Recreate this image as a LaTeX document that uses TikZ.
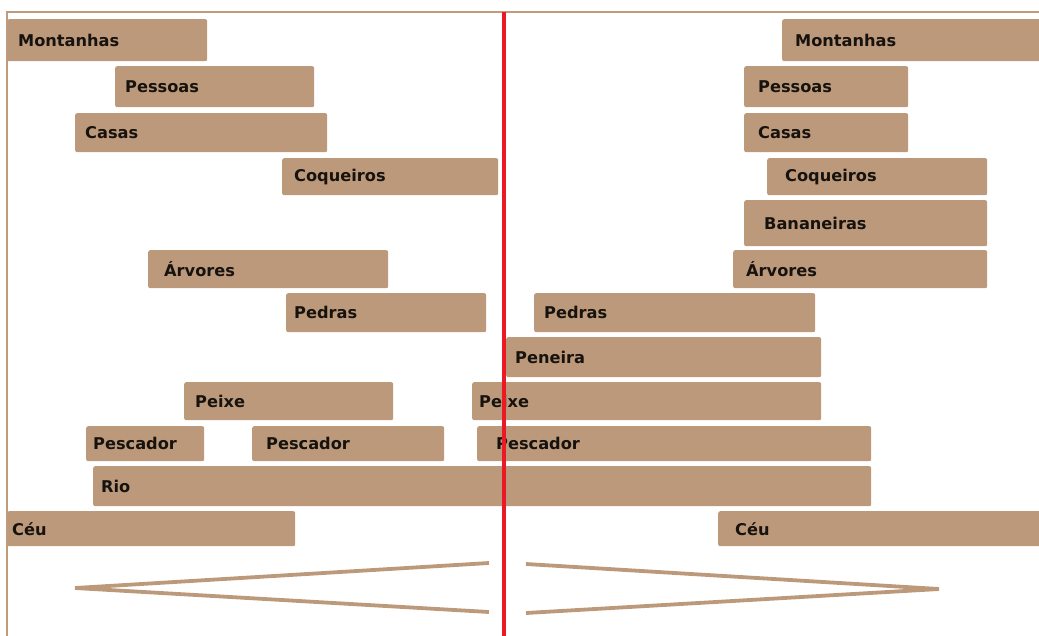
\documentclass[tikz,border=0pt]{standalone}
\usepackage{fontspec}
\setmainfont{DejaVu Sans}
\definecolor{boxbrown}{RGB}{189,153,123}
\definecolor{framebrown}{RGB}{192,156,124}
\definecolor{txt}{RGB}{22,18,14}
\definecolor{redline}{RGB}{235,25,35}
\tikzset{
  box/.style={fill=boxbrown, draw=none, rounded corners=2pt, anchor=north west,
    inner xsep=0pt, inner ysep=0pt, align=left, text=txt,
    font=\fontsize{16.2}{19}\selectfont\bfseries},
  frameline/.style={draw=framebrown, line width=2.6pt},
  chevron/.style={draw=boxbrown, line width=3.8pt, line join=miter},
  divider/.style={draw=redline, line width=3.4pt}
}
% \bx{name}{x1}{y1}{width}{height}{text offset}{text}
\newcommand\bx[7]{%
  \node[box, text width=#4pt, minimum height=#5pt] (#1) at (#2,#3) {\hspace*{#6pt}#7};}
\begin{document}
\begin{tikzpicture}[x=1pt,y=-1pt]
\useasboundingbox (0,0) rectangle (1039,635);
\clip (0,0) rectangle (1039,635);
% frame
\coordinate (ftl) at (7,12);
\coordinate (ftr) at (1045,12);
\coordinate (fbl) at (7,640);
\draw[frameline] (ftr) -- (ftl) -- (fbl);
% left column
\bx{lmont}{7}{19}{200}{42}{11}{Montanhas}
\bx{lpess}{115}{66}{199}{41}{10}{Pessoas}
\bx{lcasa}{75}{113}{252}{39}{10}{Casas}
\bx{lcoq}{282}{158}{216}{37}{12}{Coqueiros}
\bx{larv}{148}{250}{240}{38}{16}{Árvores}
\bx{lped}{286}{293}{200}{39}{8}{Pedras}
\bx{lpeix}{184}{382}{209}{38}{11}{Peixe}
\bx{lpesc}{86}{426}{118}{35}{7}{Pescador}
\bx{lpescb}{252}{426}{192}{35}{14}{Pescador}
\bx{rio}{93}{466}{778}{40}{8}{Rio}
\bx{lceu}{7}{511}{288}{35}{5}{Céu}
% middle
\bx{mpen}{506}{337}{315}{40}{9}{Peneira}
\bx{mpeix}{472}{382}{349}{38}{7}{Peixe}
\bx{mpesc}{477}{426}{394}{35}{19}{Pescador}
% right column
\bx{rmont}{782}{19}{270}{42}{13}{Montanhas}
\bx{rpess}{744}{66}{164}{41}{14}{Pessoas}
\bx{rcasa}{744}{113}{164}{39}{14}{Casas}
\bx{rcoq}{767}{158}{220}{37}{18}{Coqueiros}
\bx{rban}{744}{200}{243}{46}{20}{Bananeiras}
\bx{rarv}{733}{250}{254}{38}{13}{Árvores}
\bx{rped}{534}{293}{281}{39}{10}{Pedras}
\bx{rceu}{718}{511}{330}{35}{17}{Céu}
% divider
\coordinate (dtop) at (504,12);
\coordinate (dbot) at (504,640);
\draw[divider] (dtop) -- (dbot);
% chevrons
\coordinate (la) at (489,563);
\coordinate (lt) at (75,588);
\coordinate (lb) at (489,612);
\draw[chevron] (la) -- (lt) -- (lb);
\coordinate (ra) at (526,564);
\coordinate (rt) at (939,589);
\coordinate (rb) at (526,613);
\draw[chevron] (ra) -- (rt) -- (rb);
\end{tikzpicture}
\end{document}
